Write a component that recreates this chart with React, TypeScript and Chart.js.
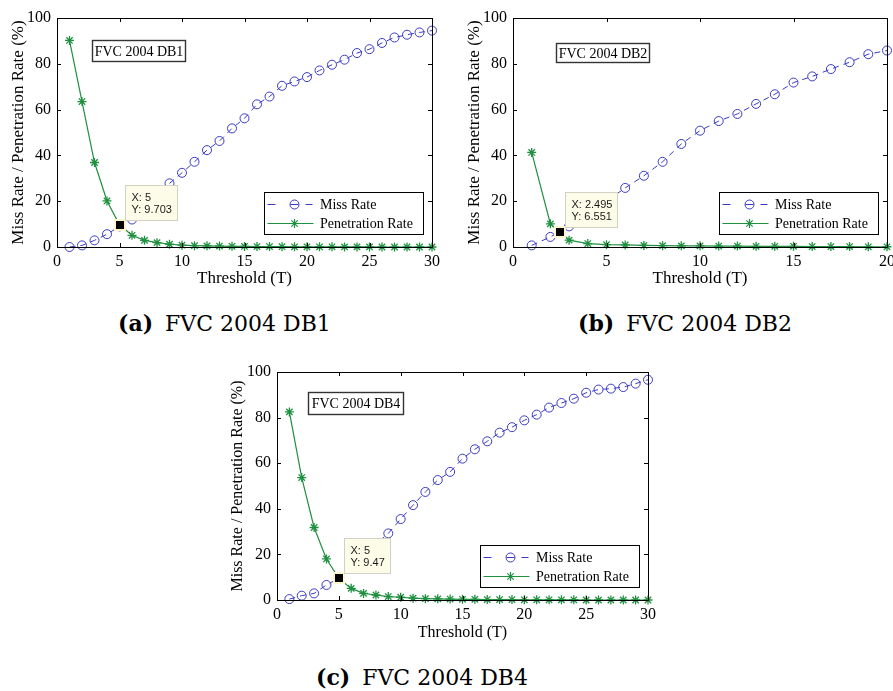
import React, { useEffect, useRef } from "react";
import { Chart, registerables } from "chart.js";

Chart.register(...registerables);

// ---------- data ----------
const thresholdsA = [1, 2, 3, 4, 5, 6, 7, 8, 9, 10, 11, 12, 13, 14, 15, 16, 17, 18, 19, 20, 21, 22, 23, 24, 25, 26, 27, 28, 29, 30];
const missRateA = [0, 0.7, 2.9, 5.6, 9.0, 12.0, 17.0, 22.0, 27.8, 32.4, 37.2, 42.3, 46.3, 51.8, 56.2, 62.3, 65.7, 70.4, 72.3, 74.2, 77.1, 79.6, 81.8, 84.7, 86.4, 89.1, 91.5, 92.7, 93.7, 94.5];
const penRateA = [90.2, 63.5, 36.9, 20.1, 9.703, 5.1, 2.9, 1.9, 1.2, 0.8, 0.6, 0.5, 0.4, 0.3, 0.25, 0.2, 0.2, 0.15, 0.1, 0.1, 0.1, 0.1, 0.05, 0.05, 0.05, 0, 0, 0, 0, 0];

const thresholdsB = [1, 2, 3, 4, 5, 6, 7, 8, 9, 10, 11, 12, 13, 14, 15, 16, 17, 18, 19, 20];
const missRateB = [0.7, 4.4, 9.0, 14.0, 20.0, 25.8, 31.1, 37.2, 45.0, 50.8, 55.0, 58.1, 62.5, 66.7, 71.8, 74.5, 77.7, 80.7, 84.2, 85.8];
const penRateB = [41.3, 10.1, 3.0, 1.5, 1.0, 0.9, 0.7, 0.6, 0.5, 0.5, 0.4, 0.4, 0.3, 0.3, 0.3, 0.2, 0.2, 0.2, 0.1, 0.1];

const thresholdsC = [1, 2, 3, 4, 5, 6, 7, 8, 9, 10, 11, 12, 13, 14, 15, 16, 17, 18, 19, 20, 21, 22, 23, 24, 25, 26, 27, 28, 29, 30];
const missRateC = [0.4, 1.9, 2.9, 6.6, 9.5, 15.0, 20.0, 24.5, 29.2, 35.5, 41.6, 47.4, 52.6, 56.2, 62.0, 66.1, 69.6, 73.4, 75.8, 78.8, 81.3, 84.4, 86.4, 88.3, 90.9, 92.3, 92.7, 93.4, 94.9, 96.6];
const penRateC = [82.5, 53.7, 31.8, 18.0, 9.47, 5.1, 2.9, 2.2, 1.5, 1.2, 0.8, 0.6, 0.5, 0.4, 0.3, 0.3, 0.2, 0.2, 0.2, 0.1, 0.1, 0.1, 0.1, 0.1, 0, 0, 0, 0, 0, 0];

const xTicks30 = [0, 5, 10, 15, 20, 25, 30];
const xTicks20 = [0, 5, 10, 15, 20];
const yTicks = [0, 20, 40, 60, 80, 100];

const tipA = [5, 9.703];
const tipB = [2.495, 6.551];
const tipC = [5, 9.47];

const seriesLabels = ["Miss Rate", "Penetration Rate"];
const xTitle = "Threshold (T)";
const yTitle = "Miss Rate / Penetration Rate (%)";

const BLUE = "#3a3ac6";
const GREEN = "#1f9040";
const SERIF = '"Liberation Serif", "Times New Roman", serif';
const SANS = '"Liberation Sans", Arial, sans-serif';

type Cfg = {
  left: number; top: number; width: number; height: number;
  yAxisW: number; padTop: number; padRight: number; xAxisH: number;
  xMax: number; xTicks: number[];
  t: number[]; miss: number[]; pen: number[];
  boxLabel: string; box: [number, number, number, number];
  tip: number[];
  yTitlePad: number; titleSize: number; tickSize: number;
};

function makePlugin(cfg: Cfg) {
  return {
    id: "matlabDecor",
    afterDatasetsDraw(chart: any) {
      const ctx: CanvasRenderingContext2D = chart.ctx;
      const { left, right, top, bottom } = chart.chartArea;
      const xs = chart.scales.x;
      const ys = chart.scales.y;
      ctx.save();
      // box + inward ticks
      ctx.strokeStyle = "#000";
      ctx.lineWidth = 1;
      ctx.setLineDash([]);
      ctx.beginPath();
      ctx.rect(Math.round(left) + 0.5, Math.round(top) + 0.5, Math.round(right - left), Math.round(bottom - top));
      ctx.stroke();
      const tl = 4;
      ctx.beginPath();
      xs.ticks.forEach((tk: any) => {
        const p = Math.round(xs.getPixelForValue(tk.value)) + 0.5;
        ctx.moveTo(p, bottom); ctx.lineTo(p, bottom - tl);
        ctx.moveTo(p, top); ctx.lineTo(p, top + tl);
      });
      ys.ticks.forEach((tk: any) => {
        const p = Math.round(ys.getPixelForValue(tk.value)) + 0.5;
        ctx.moveTo(left, p); ctx.lineTo(left + tl, p);
        ctx.moveTo(right, p); ctx.lineTo(right - tl, p);
      });
      ctx.stroke();

      // label box
      const [bdx, bdy, bw, bh] = cfg.box;
      const bx = Math.round(left + bdx) + 0.5, by = Math.round(top + bdy) + 0.5;
      ctx.fillStyle = "#fff";
      ctx.fillRect(bx, by, bw, bh);
      ctx.strokeStyle = "#333";
      ctx.lineWidth = 1.4;
      ctx.strokeRect(bx, by, bw, bh);
      ctx.fillStyle = "#000";
      ctx.font = `14px ${SERIF}`;
      ctx.textAlign = "center";
      ctx.textBaseline = "middle";
      ctx.fillText(cfg.boxLabel, bx + bw / 2, by + bh / 2 + 1);

      // legend
      const lw = 159, lh = 42;
      const lx = Math.round(right - 9 - lw) + 0.5;
      const ly = Math.round(bottom - 13 - lh) + 0.5;
      ctx.fillStyle = "#fff";
      ctx.fillRect(lx, ly, lw, lh);
      ctx.strokeStyle = "#000";
      ctx.lineWidth = 1;
      ctx.strokeRect(lx, ly, lw, lh);
      const r1 = ly + 12, r2 = ly + 31;
      // miss rate sample
      ctx.strokeStyle = BLUE;
      ctx.beginPath();
      [[3, 11], [26, 34], [41, 48]].forEach(([a, b]) => {
        ctx.moveTo(lx + a, r1); ctx.lineTo(lx + b, r1);
      });
      ctx.stroke();
      ctx.beginPath();
      ctx.arc(lx + 30, r1, 4.5, 0, Math.PI * 2);
      ctx.stroke();
      // penetration sample
      ctx.strokeStyle = GREEN;
      ctx.lineWidth = 1.2;
      ctx.beginPath();
      ctx.moveTo(lx + 3, r2); ctx.lineTo(lx + 49, r2);
      const sx = lx + 30, r = 4.5;
      ctx.moveTo(sx - r, r2); ctx.lineTo(sx + r, r2);
      ctx.moveTo(sx, r2 - r); ctx.lineTo(sx, r2 + r);
      const d = r * Math.SQRT1_2;
      ctx.moveTo(sx - d, r2 - d); ctx.lineTo(sx + d, r2 + d);
      ctx.moveTo(sx - d, r2 + d); ctx.lineTo(sx + d, r2 - d);
      ctx.stroke();
      ctx.fillStyle = "#000";
      ctx.font = `14px ${SERIF}`;
      ctx.textAlign = "left";
      ctx.fillText(seriesLabels[0], lx + 55.5, r1 + 1);
      ctx.fillText(seriesLabels[1], lx + 55.5, r2 + 1);
      ctx.restore();
    },
    afterDraw(chart: any) {
      const ctx: CanvasRenderingContext2D = chart.ctx;
      const xs = chart.scales.x;
      const ys = chart.scales.y;
      const px = xs.getPixelForValue(cfg.tip[0]);
      const py = ys.getPixelForValue(cfg.tip[1]);
      ctx.save();
      ctx.fillStyle = "#fbf6cf";
      ctx.fillRect(Math.round(px) - 6, Math.round(py) - 6, 12, 12);
      ctx.fillStyle = "#000";
      ctx.fillRect(Math.round(px) - 4, Math.round(py) - 4, 8, 8);
      ctx.font = `11px ${SANS}`;
      const l1 = "X: " + cfg.tip[0];
      const l2 = "Y: " + cfg.tip[1];
      const w = Math.ceil(Math.max(ctx.measureText(l1).width, ctx.measureText(l2).width)) + 11;
      const h = 35;
      const bx = Math.round(px + 5) + 0.5;
      const by = Math.round(py - 5 - h) + 0.5;
      ctx.fillStyle = "#fdfce9";
      ctx.fillRect(bx, by, w, h);
      ctx.strokeStyle = "#d2d2c4";
      ctx.lineWidth = 1;
      ctx.strokeRect(bx, by, w, h);
      ctx.fillStyle = "#1a1a1a";
      ctx.textAlign = "left";
      ctx.textBaseline = "middle";
      ctx.fillText(l1, bx + 6, by + 12);
      ctx.fillText(l2, bx + 6, by + 24);
      ctx.restore();
    },
  };
}

function SubChart({ cfg }: { cfg: Cfg }) {
  const ref = useRef<HTMLCanvasElement | null>(null);
  useEffect(() => {
    if (!ref.current) return;
    const fixTicks = (vals: number[]) => (s: any) => {
      s.ticks = vals.map((v) => ({ value: v }));
    };
    const chart = new Chart(ref.current, {
      type: "line",
      data: {
        datasets: [
          {
            label: seriesLabels[1],
            data: cfg.t.map((x, i) => ({ x, y: cfg.pen[i] })),
            borderColor: GREEN,
            backgroundColor: GREEN,
            borderWidth: 1.2,
            pointStyle: "star",
            pointRadius: 4.5,
            pointBorderWidth: 1.3,
            pointBorderColor: GREEN,
            tension: 0,
            clip: false as any,
          },
          {
            label: seriesLabels[0],
            data: cfg.t.map((x, i) => ({ x, y: cfg.miss[i] })),
            borderColor: BLUE,
            backgroundColor: "rgba(0,0,0,0)",
            borderWidth: 1,
            borderDash: [6, 5],
            pointStyle: "circle",
            pointRadius: 4.5,
            pointBorderWidth: 1,
            pointBorderColor: BLUE,
            pointBackgroundColor: "rgba(0,0,0,0)",
            tension: 0,
            clip: false as any,
          },
        ],
      },
      options: {
        animation: false,
        responsive: false,
        maintainAspectRatio: false,
        devicePixelRatio: 1,
        events: [],
        layout: { padding: { left: 0, top: cfg.padTop, right: cfg.padRight, bottom: 0 } },
        plugins: { legend: { display: false }, tooltip: { enabled: false } },
        scales: {
          x: {
            type: "linear",
            min: 0,
            max: cfg.xMax,
            afterBuildTicks: fixTicks(cfg.xTicks),
            grid: { display: false, drawTicks: false, tickLength: 0 },
            border: { display: false },
            ticks: {
              padding: 5,
              color: "#000",
              maxRotation: 0,
              autoSkip: false,
              font: { family: SERIF, size: cfg.tickSize },
            },
            title: {
              display: true,
              text: xTitle,
              color: "#000",
              font: { family: SERIF, size: cfg.titleSize },
              padding: { top: 0, bottom: 0 },
            },
            afterFit: (s: any) => {
              s.height = cfg.xAxisH;
              s.paddingLeft = 0; s.paddingRight = 0;
            },
          },
          y: {
            type: "linear",
            min: 0,
            max: 100,
            afterBuildTicks: fixTicks(yTicks),
            grid: { display: false, drawTicks: false, tickLength: 0 },
            border: { display: false },
            ticks: {
              padding: 6,
              color: "#000",
              autoSkip: false,
              font: { family: SERIF, size: cfg.tickSize },
            },
            title: {
              display: true,
              text: yTitle,
              color: "#000",
              font: { family: SERIF, size: cfg.titleSize },
              padding: { top: cfg.yTitlePad, bottom: 0 },
            },
            afterFit: (s: any) => {
              s.width = cfg.yAxisW;
              s.paddingTop = 0; s.paddingBottom = 0;
            },
          },
        },
      } as any,
      plugins: [makePlugin(cfg)],
    });
    return () => chart.destroy();
  }, [cfg]);
  return (
    <canvas
      ref={ref}
      width={cfg.width}
      height={cfg.height}
      style={{ position: "absolute", left: cfg.left, top: cfg.top, width: cfg.width, height: cfg.height }}
    />
  );
}

const cfgA: Cfg = {
  left: 0, top: 0, width: 445, height: 289,
  yAxisW: 57, padTop: 18, padRight: 13, xAxisH: 42,
  xMax: 30, xTicks: xTicks30, t: thresholdsA, miss: missRateA, pen: penRateA,
  boxLabel: "FVC 2004 DB1", box: [35, 22, 93, 21], tip: tipA,
  yTitlePad: 8, titleSize: 17, tickSize: 16,
};
const cfgB: Cfg = {
  left: 460, top: 0, width: 433, height: 289,
  yAxisW: 53, padTop: 18, padRight: 6, xAxisH: 42,
  xMax: 20, xTicks: xTicks20, t: thresholdsB, miss: missRateB, pen: penRateB,
  boxLabel: "FVC 2004 DB2", box: [43, 25, 93, 19], tip: tipB,
  yTitlePad: 4, titleSize: 17, tickSize: 16,
};
const cfgC: Cfg = {
  left: 215, top: 355, width: 445, height: 287,
  yAxisW: 62, padTop: 17, padRight: 12, xAxisH: 42,
  xMax: 30, xTicks: xTicks30, t: thresholdsC, miss: missRateC, pen: penRateC,
  boxLabel: "FVC 2004 DB4", box: [31, 20, 95, 22], tip: tipC,
  yTitlePad: 13, titleSize: 16, tickSize: 16,
};

const captionStyle: React.CSSProperties = {
  position: "absolute",
  fontFamily: '"DejaVu Serif", serif',
  fontSize: 22,
  lineHeight: "26px",
  color: "#000",
  whiteSpace: "nowrap",
};

function Caption({ left, top, tag, text }: { left: number; top: number; tag: string; text: string }) {
  return (
    <div style={{ ...captionStyle, left, top }}>
      <span style={{ fontWeight: "bold" }}>{tag}</span>
      <span style={{ marginLeft: 12 }}>{text}</span>
    </div>
  );
}

export default function App() {
  return (
    <div style={{ position: "absolute", left: 0, top: 0, width: 893, height: 691, background: "#fff", overflow: "hidden" }}>
      <SubChart cfg={cfgA} />
      <SubChart cfg={cfgB} />
      <SubChart cfg={cfgC} />
      <Caption left={118} top={310} tag="(a)" text="FVC 2004 DB1" />
      <Caption left={578} top={310} tag="(b)" text="FVC 2004 DB2" />
      <Caption left={316} top={664} tag="(c)" text="FVC 2004 DB4" />
    </div>
  );
}
